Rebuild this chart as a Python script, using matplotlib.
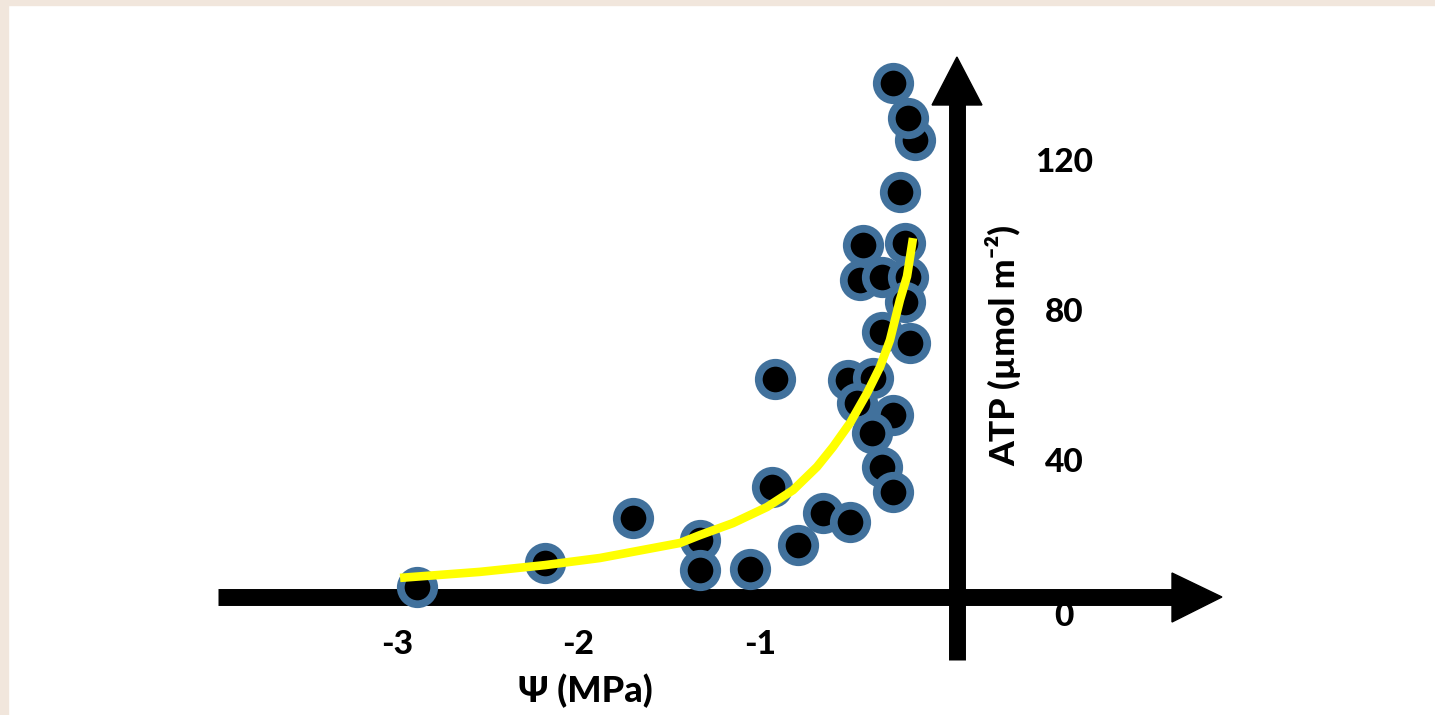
import matplotlib
matplotlib.use("Agg")
import matplotlib.pyplot as plt
from matplotlib.patches import Polygon, Rectangle
from matplotlib import font_manager as fm

# Data
psi = [-2.890, -2.182, -1.700, -1.331, -1.331, -1.055, -0.934, -0.791, -0.653, -0.504,
       -0.917, -0.515, -0.377, -0.466, -0.267, -0.383, -0.328, -0.267, -0.328, -0.174,
       -0.449, -0.328, -0.185, -0.201, -0.433, -0.201, -0.229, -0.146, -0.185, -0.267]
atp = [6.7, 13.1, 25.1, 19.2, 11.2, 11.5, 33.3, 17.9, 26.4, 24.0,
       62.1, 61.9, 62.4, 55.7, 52.5, 47.7, 38.7, 32.0, 74.7, 71.7,
       88.5, 89.3, 89.3, 82.7, 97.9, 98.4, 112.0, 125.9, 131.7, 141.1]

fit_x = [-2.983, -2.543, -2.185, -1.882, -1.441, -1.331, -1.149, -0.961, -0.818,
         -0.686, -0.598, -0.504, -0.410, -0.339, -0.284, -0.229, -0.190, -0.157]
fit_y = [9.1, 10.7, 12.5, 14.4, 18.4, 20.5, 23.7, 28.0, 32.5,
         38.7, 44.0, 50.4, 58.4, 65.3, 72.5, 83.2, 89.5, 99.7]

x_ticks = [-3, -2, -1]
x_tick_labels = ["-3", "-2", "-1"]
y_ticks = [120, 80, 40, 0]
y_tick_labels = ["120", "80", "40", "0"]

# pick a heavy humanist sans that is really available
chosen, weight = "DejaVu Sans", "bold"
for fam in ["Lato", "Open Sans", "Noto Sans", "Liberation Sans"]:
    found = False
    for w in ["black", "heavy", "extra bold", "bold"]:
        try:
            path = fm.findfont(fm.FontProperties(family=fam, weight=w), fallback_to_default=False)
            fp = fm.FontProperties(fname=path)
            low = path.lower()
            if fp.get_name() == fam and any(k in low for k in ["black", "heavy", "extrabold", "bold"]):
                chosen, weight, found = fam, w, True
                break
        except Exception:
            pass
    if found:
        break

plt.rcParams['font.family'] = [chosen, "DejaVu Sans"]

fig = plt.figure(figsize=(14.35, 7.15), dpi=100)
fig.patch.set_facecolor("white")
beige = "#F1E6DC"
fig.patches.append(Rectangle((0, 0), 8 / 1435, 1, transform=fig.transFigure, color=beige, zorder=0))
fig.patches.append(Rectangle((0, 1 - 5 / 715), 1, 5 / 715, transform=fig.transFigure, color=beige, zorder=0))

ax = fig.add_axes([8 / 1435, 0, 1 - 8 / 1435, 1 - 5 / 715])
ax.set_xlim((8 - 941.5) / 181.5, (1435 - 941.5) / 181.5)
ax.set_ylim((612 - 715) / 3.75, (612 - 5) / 3.75)
ax.axis("off")

# axes arrows
x_axis_y = 4.0
y_axis_x = 0.085
lw_axis = 12.2
ax.plot([-3.986, 1.28], [x_axis_y, x_axis_y], color="black", lw=lw_axis, solid_capstyle="butt", zorder=2)
ax.add_patch(Polygon([[1.27, 10.4], [1.27, -2.67], [1.545, x_axis_y]], closed=True, color="black", zorder=2))
ax.plot([y_axis_x, y_axis_x], [-12.8, 136], color="black", lw=lw_axis, solid_capstyle="butt", zorder=2)
ax.add_patch(Polygon([[-0.052, 135.2], [0.223, 135.2], [y_axis_x, 148.0]], closed=True, color="black", zorder=2))

# points
ax.scatter(psi, atp, s=580, c="black", edgecolors="#41719C", linewidths=5.6, zorder=3)

# fitted curve
ax.plot(fit_x, fit_y, color="#FFFF00", lw=6.2, solid_capstyle="butt", solid_joinstyle="round", zorder=4)

# tick labels
fs = 24
for v, t in zip(x_ticks, x_tick_labels):
    ax.text(v, -8.8, t, ha="center", va="center", fontsize=fs, fontweight=weight, zorder=5)
for v, t in zip(y_ticks, y_tick_labels):
    yy = v if v != 0 else -1.3
    ax.text(0.675, yy, t, ha="center", va="center", fontsize=fs, fontweight=weight, zorder=5)

ax.text(-1.964, -21.0, "Ψ (MPa)", ha="center", va="center", fontsize=26, fontweight=weight, zorder=5)
ax.text(0.339, 71.2, "ATP (µmol m⁻²)", ha="center", va="center", rotation=90,
        fontsize=25.5, fontweight=weight, zorder=5)

fig.savefig("out.png", dpi=100, facecolor=fig.get_facecolor())
